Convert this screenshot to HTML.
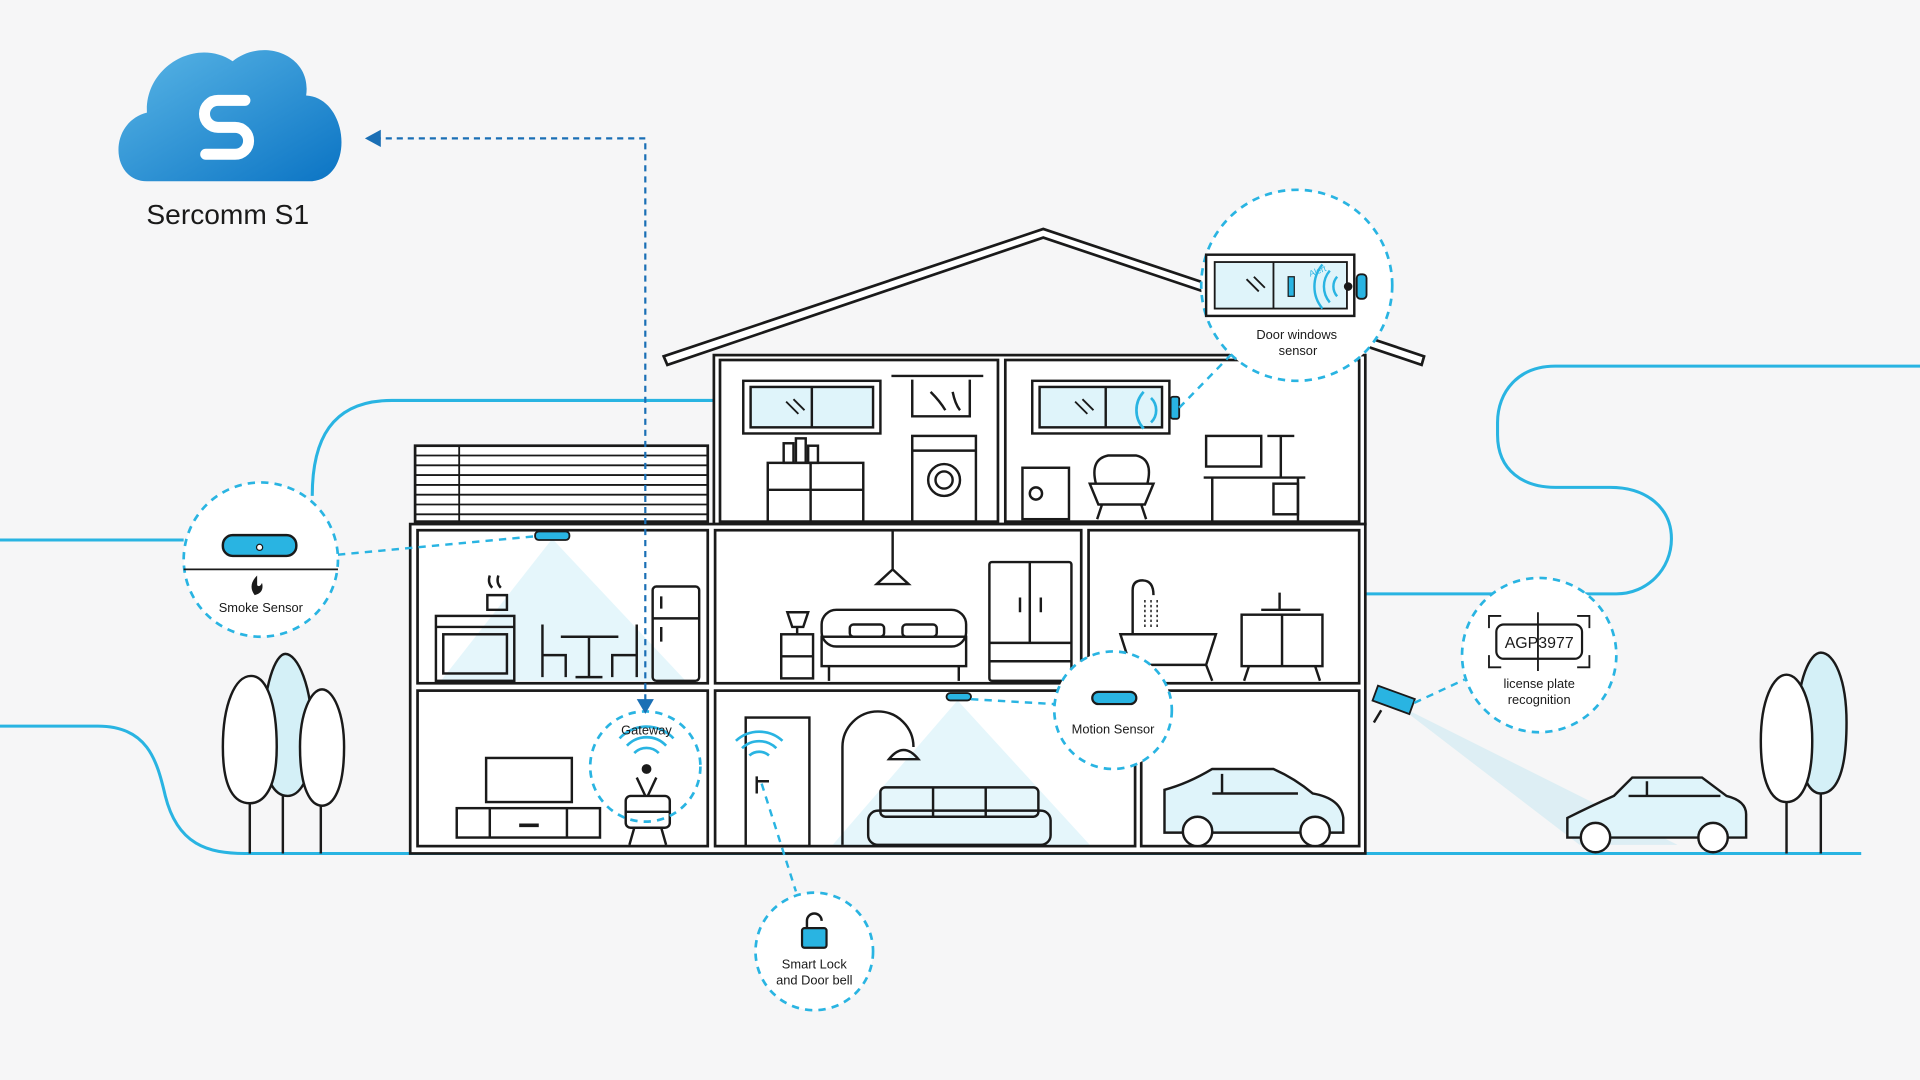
<!DOCTYPE html>
<html><head><meta charset="utf-8"><style>
html,body{margin:0;padding:0;width:1920px;height:1080px;overflow:hidden;background:#f6f6f7}
svg{display:block}
text{font-family:"Liberation Sans",sans-serif}
</style></head><body>
<svg width="1920" height="1080" viewBox="0 0 1568 882" xmlns="http://www.w3.org/2000/svg">
<defs>
<linearGradient id="cg" x1="0" y1="0" x2="1" y2="1"><stop offset="0" stop-color="#5ab6e6"/><stop offset="1" stop-color="#0b74c4"/></linearGradient>
</defs>
<rect width="1568" height="882" fill="#f6f6f7"/>
<g fill="none" stroke="#29b4e2" stroke-width="2.5">
<path d="M0 441 H150"/>
<path d="M255 405 C255 360 270 327 320 327 H583"/>
<path d="M0 593 H80 C120 593 128 620 135 650 C145 690 170 697 200 697 H1520"/>
<path d="M1568 299 H1270 C1240 299 1223 320 1223 345 V355 C1223 385 1245 398 1270 398 H1315 C1345 398 1365 415 1365 440 C1365 465 1345 485 1320 485 H1115"/>
</g>
<g>
<path d="M120 148 C90 148 88 100 120 92 C118 55 160 30 190 50 C215 30 255 45 250 78 C285 80 290 145 255 148 Z" fill="url(#cg)"/>
<path d="M200 82 H178 A11 11 0 0 0 178 104 H192 A11 11 0 0 1 192 126 H168" fill="none" stroke="#fff" stroke-width="9" stroke-linecap="round"/>
<text x="186" y="183" font-size="23" text-anchor="middle" fill="#1a1a1a">Sercomm S1</text>
</g>
<g fill="none" stroke="#1a1a1a" stroke-width="2.2">
<path d="M542 291 L852 187 L1163 291 L1161 298 L852 194 L545 298 Z" fill="#fff"/>
<rect x="583" y="290" width="532" height="138" fill="#fff"/>
<rect x="335" y="428" width="780" height="269" fill="#fff"/>
<rect x="588" y="294" width="227" height="132"/>
<rect x="821" y="294" width="289" height="132"/>
<rect x="341" y="433" width="237" height="125"/>
<rect x="584" y="433" width="299" height="125"/>
<rect x="889" y="433" width="221" height="125"/>
<rect x="341" y="564" width="237" height="127"/>
<rect x="584" y="564" width="343" height="127"/>
<rect x="932" y="564" width="178" height="127"/>
<rect x="339" y="364" width="239" height="62" fill="#fff"/>
<path d="M339 372 H578 M339 380 H578 M339 388 H578 M339 396 H578 M339 404 H578 M339 412 H578 M339 420 H578 M375 364 V426" stroke-width="1.5"/>
</g>
<g fill="#29b4e2" opacity="0.12">
<path d="M451 440 L360 556 L560 556 Z"/>
<path d="M782 572 L680 690 L890 690 Z"/>
<path d="M1140 575 L1290 690 L1370 690 Z"/>
</g>
<g fill="none" stroke="#1a1a1a" stroke-width="2">
<rect x="607" y="311" width="112" height="43"/><rect x="613" y="316" width="100" height="33" fill="#dff4fa"/><path d="M663 316 V349"/>
<path d="M642 328 L652 338 M648 326 L657 335" stroke-width="1.5"/>
<path d="M728 307 H803"/><path d="M745 310 V340 H792 V310" /><path d="M760 320 Q768 328 772 335 M778 320 Q780 330 784 335"/>
<rect x="745" y="356" width="52" height="70"/><circle cx="771" cy="392" r="13"/><circle cx="771" cy="392" r="7"/><path d="M745 368 H797"/>
<rect x="627" y="378" width="78" height="48"/><path d="M662 378 V426 M627 400 H705"/>
<rect x="640" y="362" width="8" height="16"/><rect x="650" y="358" width="8" height="20"/><rect x="660" y="364" width="8" height="14"/>
<rect x="843" y="311" width="112" height="43"/><rect x="849" y="316" width="100" height="33" fill="#dff4fa"/><path d="M903 316 V349"/>
<path d="M878 328 L888 338 M884 326 L893 335" stroke-width="1.5"/>
<rect x="835" y="382" width="38" height="42"/><circle cx="846" cy="403" r="5"/>
<path d="M895 395 Q890 375 905 372 H928 Q942 375 937 395 M890 395 H942 L935 412 H897 Z M900 412 L896 424 M932 412 L936 424"/>
<rect x="985" y="356" width="45" height="25"/><path d="M1035 356 H1057 M1046 356 V390 M983 390 H1066 M990 390 V426 M1060 390 V426"/><rect x="1040" y="395" width="20" height="25"/>
<rect x="356" y="503" width="64" height="53"/><rect x="362" y="518" width="52" height="32"/><path d="M356 512 H420"/>
<path d="M398 486 H414 V498 H398 Z M400 470 Q398 476 402 480 M407 470 Q405 476 409 480"/>
<path d="M443 510 V553 M443 535 H462 V553 M458 520 H505 M481 520 V553 M470 553 H492"/>
<path d="M520 510 V553 M520 535 H500 V553"/>
<rect x="533" y="479" width="38" height="77" rx="3"/><path d="M533 505 H571 M540 487 V497 M540 512 V524"/>
<path d="M729 433 V465 M716 477 L729 465 L742 477 Z"/>
<rect x="671" y="498" width="118" height="30" rx="12"/><rect x="671" y="520" width="118" height="24"/><path d="M677 544 V556 M783 544 V556"/><rect x="694" y="510" width="28" height="10" rx="3"/><rect x="737" y="510" width="28" height="10" rx="3"/>
<path d="M643 500 H660 L656 512 H647 Z M651 512 V518"/><rect x="638" y="518" width="26" height="36"/><path d="M638 536 H664"/>
<rect x="808" y="459" width="67" height="97" rx="2"/><path d="M841 459 V525 M808 525 H875 M808 540 H875 M833 488 V500 M850 488 V500"/>
<path d="M915 518 H993 L985 543 H923 Z M923 543 L918 556 M985 543 L990 556 M925 518 V482 Q925 474 933 474 Q942 474 942 486"/>
<path d="M935 490 V514 M940 490 V514 M945 490 V514" stroke-dasharray="2 2" stroke-width="1.2"/>
<rect x="1014" y="502" width="66" height="42"/><path d="M1047 502 V544 M1020 544 L1016 556 M1074 544 L1078 556 M1030 498 H1062 M1045 484 V498"/>
<rect x="397" y="619" width="70" height="36"/><rect x="373" y="660" width="117" height="24"/><path d="M400 660 V684 M463 660 V684"/><path d="M424 674 H440" stroke-width="3"/>
<rect x="609" y="586" width="52" height="105"/><path d="M617 638 H628 M618 634 V648"/>
<path d="M688 690 V610 A29 29 0 0 1 746 610"/><path d="M726 620 Q738 605 750 620 Z"/>
<rect x="709" y="662" width="149" height="28" rx="8"/><rect x="719" y="643" width="129" height="24" rx="4"/><path d="M762 643 V667 M805 643 V667"/>
<path d="M951 645 Q970 640 990 628 H1040 Q1058 636 1072 648 Q1095 652 1097 668 V680 H951 Z" fill="#dff4fa"/>
<path d="M998 632 V648 M990 648 H1060"/>
<circle cx="978" cy="679" r="12" fill="#fff"/><circle cx="1074" cy="679" r="12" fill="#fff"/>
<path d="M1280 668 Q1300 658 1318 650 L1333 635 H1390 L1410 650 Q1426 654 1426 665 V684 H1280 Z" fill="#dff4fa"/>
<path d="M1345 638 V650 M1330 650 H1405"/>
<circle cx="1303" cy="684" r="12" fill="#fff"/><circle cx="1399" cy="684" r="12" fill="#fff"/>
<rect x="511" y="650" width="36" height="26" rx="4"/><path d="M511 663 H547 M518 676 L514 690 M540 676 L544 690 M520 635 L527 650 M536 635 L529 650"/><circle cx="528" cy="628" r="3" fill="#1a1a1a"/>
</g>
<g stroke="#1a1a1a" stroke-width="2">
<path d="M231 697 V560" fill="none"/><path d="M215 600 C215 560 225 534 233 534 C243 534 255 560 255 600 C255 640 243 650 235 650 C225 650 215 640 215 600 Z" fill="#d4f0f7"/>
<path d="M204 697 V600" fill="none"/><path d="M182 610 C182 575 192 552 205 552 C218 552 226 575 226 610 C226 645 215 656 204 656 C192 656 182 645 182 610 Z" fill="#fff"/>
<path d="M262 697 V610" fill="none"/><path d="M245 610 C245 582 254 563 263 563 C272 563 281 582 281 610 C281 645 272 658 263 658 C254 658 245 645 245 610 Z" fill="#fff"/>
<path d="M1487 697 V560" fill="none"/><path d="M1468 590 C1468 555 1478 533 1487 533 C1498 533 1508 555 1508 590 C1508 635 1498 648 1487 648 C1478 648 1468 635 1468 590 Z" fill="#d4f0f7"/>
<path d="M1459 697 V600" fill="none"/><path d="M1438 605 C1438 572 1448 551 1459 551 C1470 551 1480 572 1480 605 C1480 642 1470 655 1459 655 C1448 655 1438 642 1438 605 Z" fill="#fff"/>
</g>
<g fill="none" stroke="#29b4e2" stroke-width="2.2">
<path d="M518 615 A14 14 0 0 1 538 615 M512 609 A22 22 0 0 1 544 609 M506 603 A30 30 0 0 1 550 603"/>
<path d="M612 617 A12 12 0 0 1 628 617 M606 611 A20 20 0 0 1 634 611 M601 605 A28 28 0 0 1 639 605"/>
<path d="M940 325 A14 14 0 0 1 940 345 M934 320 A22 22 0 0 0 934 350" />
</g>
<rect x="437" y="434" width="28" height="7" rx="3" fill="#29b4e2" stroke="#1a1a1a" stroke-width="1.5"/>
<rect x="773" y="566" width="20" height="6" rx="3" fill="#29b4e2" stroke="#1a1a1a" stroke-width="1.5"/>
<rect x="956" y="324" width="7" height="18" rx="2" fill="#29b4e2" stroke="#1a1a1a" stroke-width="1.5"/>
<g transform="rotate(20 1138 572)"><rect x="1122" y="565" width="32" height="13" fill="#29b4e2" stroke="#1a1a1a" stroke-width="1.5"/></g>
<path d="M1128 580 L1122 590" stroke="#1a1a1a" stroke-width="2"/>
<g fill="none" stroke="#29b4e2" stroke-width="2" stroke-dasharray="6 5">
<path d="M276 453 L437 438"/>
<path d="M793 571 L861 575"/>
<path d="M963 333 L1005 290"/>
<path d="M1155 574 L1196 555"/>
<path d="M622 640 L650 728"/>
</g>
<g fill="#fff" stroke="#29b4e2" stroke-width="2.2" stroke-dasharray="6 5">
<circle cx="213" cy="457" r="63"/>
<circle cx="527" cy="626" r="45" fill="none"/>
<circle cx="665" cy="777" r="48"/>
<circle cx="909" cy="580" r="48"/>
<circle cx="1257" cy="535" r="63"/>
<circle cx="1059" cy="233" r="78"/>
</g>
<path d="M150 465 H276" stroke="#1a1a1a" stroke-width="1.5"/>
<rect x="182" y="437" width="60" height="17" rx="8" fill="#29b4e2" stroke="#1a1a1a" stroke-width="2"/>
<circle cx="212" cy="447" r="2.5" fill="#fff" stroke="#1a1a1a"/>
<path d="M210 470 Q202 478 208 486 Q216 484 214 476 Q212 480 210 478 Z" fill="#1a1a1a"/>
<text x="213" y="500" font-size="10.5" text-anchor="middle" fill="#1a1a1a">Smoke Sensor</text>
<text x="528" y="600" font-size="10.5" text-anchor="middle" fill="#1a1a1a">Gateway</text>
<rect x="892" y="565" width="36" height="10" rx="5" fill="#29b4e2" stroke="#1a1a1a" stroke-width="1.8"/>
<text x="909" y="599" font-size="10.5" text-anchor="middle" fill="#1a1a1a">Motion Sensor</text>
<path d="M659 759 V752 A6 6 0 0 1 671 752" fill="none" stroke="#1a1a1a" stroke-width="2"/>
<rect x="655" y="758" width="20" height="16" rx="2" fill="#29b4e2" stroke="#1a1a1a" stroke-width="1.8"/>
<text x="665" y="791" font-size="10.5" text-anchor="middle" fill="#1a1a1a">Smart Lock</text>
<text x="665" y="804" font-size="10.5" text-anchor="middle" fill="#1a1a1a">and Door bell</text>
<rect x="1222" y="510" width="70" height="28" rx="6" fill="#fff" stroke="#1a1a1a" stroke-width="1.8"/>
<path d="M1216 513 V503 H1226 M1288 503 H1298 V513 M1216 535 V545 H1226 M1288 545 H1298 V535 M1256 500 V548" fill="none" stroke="#1a1a1a" stroke-width="1.5"/>
<text x="1257" y="529" font-size="13" text-anchor="middle" fill="#1a1a1a">AGP3977</text>
<text x="1257" y="562" font-size="10.5" text-anchor="middle" fill="#1a1a1a">license plate</text>
<text x="1257" y="575" font-size="10.5" text-anchor="middle" fill="#1a1a1a">recognition</text>
<rect x="985" y="208" width="121" height="50" fill="#fff" stroke="#1a1a1a" stroke-width="2"/>
<rect x="992" y="214" width="108" height="38" fill="#dff4fa" stroke="#1a1a1a" stroke-width="1.5"/>
<path d="M1040 214 V252" stroke="#1a1a1a" stroke-width="1.5"/>
<path d="M1018 228 L1028 238 M1024 226 L1033 235" stroke="#1a1a1a" stroke-width="1.5"/>
<rect x="1052" y="226" width="5" height="16" fill="#29b4e2" stroke="#1a1a1a"/>
<path d="M1092 226 A12 12 0 0 0 1092 242 M1086 221 A20 20 0 0 0 1086 247 M1080 216 A28 28 0 0 0 1080 252" fill="none" stroke="#29b4e2" stroke-width="2"/>
<circle cx="1101" cy="234" r="3.5" fill="#1a1a1a"/>
<rect x="1108" y="224" width="8" height="20" rx="3" fill="#29b4e2" stroke="#1a1a1a" stroke-width="1.5"/>
<text x="1070" y="226" font-size="7" fill="#29b4e2" transform="rotate(-20 1070 226)">Alert</text>
<text x="1059" y="277" font-size="10.5" text-anchor="middle" fill="#1a1a1a">Door windows</text>
<text x="1060" y="290" font-size="10.5" text-anchor="middle" fill="#1a1a1a">sensor</text>
<g stroke="#1a6fb5" stroke-width="1.8" fill="none" stroke-dasharray="5 4">
<path d="M527 572 V113 H310"/>
</g>
<path d="M298 113 L311 106 L311 120 Z" fill="#1a6fb5"/>
<path d="M527 583 L520 571 L534 571 Z" fill="#1a6fb5"/>
</svg>
</body></html>
